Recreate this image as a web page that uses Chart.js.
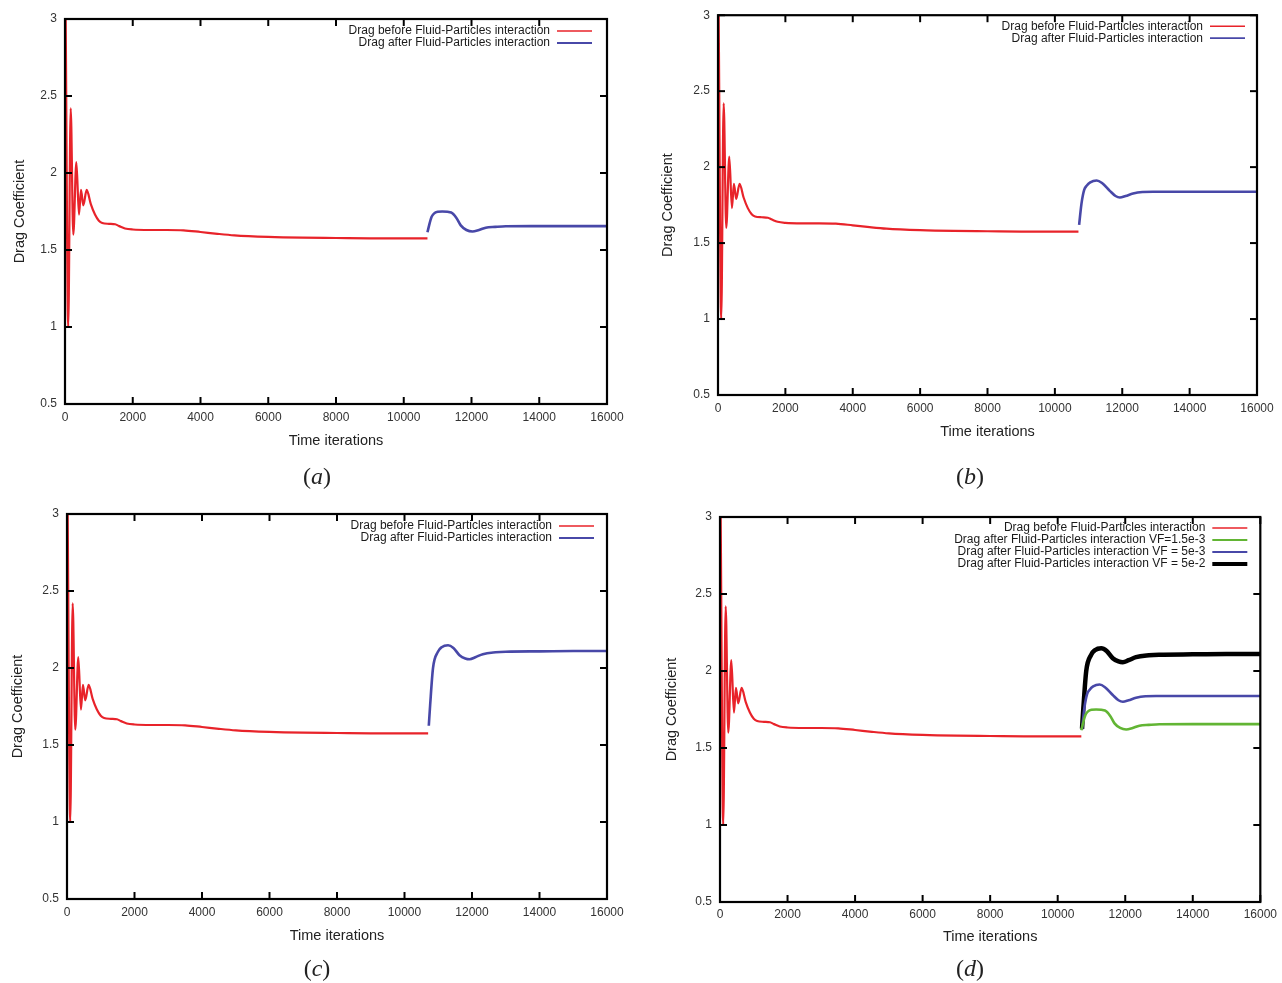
<!DOCTYPE html>
<html><head><meta charset="utf-8">
<script src="https://cdn.jsdelivr.net/npm/chart.js@4.4.1/dist/chart.umd.min.js"></script>
<style>
html,body{margin:0;padding:0;background:#fff;}
body{width:1282px;height:983px;position:relative;overflow:hidden;font-family:"Liberation Sans",Arial,sans-serif;}
.panel{position:absolute;}
.panel canvas{display:block;}
.cap{position:absolute;font-family:"Liberation Serif","DejaVu Serif",serif;font-size:24px;color:#222;transform:translate(-50%,-50%);white-space:nowrap;}
</style></head><body>
<div class="panel" style="left:0;top:0;width:640px;height:490px"><canvas id="ca" width="640" height="490"></canvas></div>
<div class="panel" style="left:640px;top:0;width:642px;height:490px"><canvas id="cb" width="642" height="490"></canvas></div>
<div class="panel" style="left:0;top:490px;width:640px;height:493px"><canvas id="cc" width="640" height="493"></canvas></div>
<div class="panel" style="left:640px;top:490px;width:642px;height:493px"><canvas id="cd" width="642" height="493"></canvas></div>
<div class="cap" style="left:317px;top:476px">(<i>a</i>)</div>
<div class="cap" style="left:970px;top:476px">(<i>b</i>)</div>
<div class="cap" style="left:317px;top:968px">(<i>c</i>)</div>
<div class="cap" style="left:970px;top:968px">(<i>d</i>)</div>
<script>
// ---- tick labels ----
const tickX = [0, 2000, 4000, 6000, 8000, 10000, 12000, 14000, 16000];
const tickY = [0.5, 1, 1.5, 2, 2.5, 3];

// ---- drag before fluid-particles interaction (same in all panels) ----
const redX = [20, 95, 168, 245, 335, 413, 472, 540, 640, 760, 885, 1000, 1100, 1300, 1480, 1600, 1770, 2000, 2500, 3000, 3500, 4000, 4500, 5000, 6000, 7000, 8000, 9000, 10000, 10700];
const redY = [3.0, 1.0, 2.42, 1.6, 2.07, 1.73, 1.89, 1.79, 1.89, 1.8, 1.73, 1.69, 1.675, 1.67, 1.667, 1.655, 1.64, 1.633, 1.63, 1.63, 1.628, 1.617, 1.605, 1.595, 1.585, 1.58, 1.578, 1.576, 1.575, 1.575];

// ---- drag after interaction, VF = 1.5e-3 (panel a, green in d) ----
const lowX = [10700, 10760, 10820, 10890, 11000, 11137, 11400, 11550, 11683, 11850, 12028, 12200, 12421, 12700, 13013, 14000, 16000];
const lowY = [1.615, 1.67, 1.715, 1.736, 1.748, 1.75, 1.743, 1.71, 1.66, 1.63, 1.62, 1.628, 1.645, 1.65, 1.654, 1.655, 1.655];

// ---- drag after interaction, VF = 5e-3 (panel b, blue in d) ----
const midX = [10720, 10790, 10870, 10943, 11050, 11240, 11400, 11630, 11800, 11930, 12100, 12320, 12600, 12914, 14000, 16000];
const midY = [1.62, 1.76, 1.85, 1.877, 1.9, 1.912, 1.895, 1.844, 1.81, 1.8, 1.81, 1.826, 1.836, 1.838, 1.838, 1.838];

// ---- drag after interaction, VF = 5e-2 (panel c, black in d) ----
const highX = [10720, 10760, 10845, 10990, 11100, 11290, 11450, 11630, 11800, 11930, 12100, 12320, 12700, 13000, 14000, 15000, 16000];
const highY = [1.625, 1.76, 2.0, 2.105, 2.135, 2.148, 2.13, 2.083, 2.062, 2.057, 2.07, 2.09, 2.102, 2.106, 2.108, 2.11, 2.11];

const FAM = '"Liberation Sans", Arial, sans-serif';
const RED = '#e8232a', BLUE = '#4848a8', GREEN = '#62b534', BLACK = '#000000';

function pts(xs, ys){ return xs.map((x,i)=>({x:x, y:ys[i]})); }
function ds(label, xs, ys, color, w, lw){
  return {label, data: pts(xs, ys), borderColor: color, backgroundColor: color,
          borderWidth: w, legendWidth: lw, pointRadius: 0, fill: false,
          cubicInterpolationMode: 'monotone'};
}

const framePlugin = {
  id: 'frame',
  afterDatasetsDraw(chart, args, o){
    const {ctx, chartArea: a, scales: {x, y}} = chart;
    ctx.save();
    ctx.strokeStyle = '#000';
    const seg = (x1,y1,x2,y2)=>{ctx.beginPath();ctx.moveTo(x1,y1);ctx.lineTo(x2,y2);ctx.stroke();};
    ctx.lineWidth = 2;
    const L = 7;
    x.ticks.forEach(t=>{ const p = x.getPixelForValue(t.value); seg(p,a.bottom,p,a.bottom-L); seg(p,a.top,p,a.top+L); });
    y.ticks.forEach(t=>{ const p = y.getPixelForValue(t.value); seg(a.left,p,a.left+L,p); seg(a.right,p,a.right-L,p); });
    ctx.lineWidth = 2.2;
    ctx.strokeRect(a.left, a.top, a.right-a.left, a.bottom-a.top);
    // gnuplot-style key: right-aligned text, sample line on the right
    ctx.font = '12px ' + FAM;
    ctx.textAlign = 'right';
    ctx.textBaseline = 'middle';
    chart.data.datasets.forEach((d,i)=>{
      const yy = a.top + o.top + i*o.step;
      ctx.fillStyle = '#1a1a1a';
      ctx.fillText(d.label, a.right - o.textOff, yy);
      ctx.strokeStyle = d.borderColor;
      ctx.lineWidth = d.legendWidth;
      seg(a.right - o.l1, yy, a.right - o.l2, yy);
    });
    ctx.restore();
  }
};

function makeChart(id, datasets, p){
  new Chart(document.getElementById(id), {
    type: 'line',
    data: {datasets},
    plugins: [framePlugin],
    options: {
      responsive: false, animation: false, events: [],
      layout: {padding: {top: p.top, right: p.right, left: 0, bottom: 0}},
      plugins: {
        legend: {display: false}, tooltip: {enabled: false},
        frame: {top: p.kTop, step: 12, textOff: p.kText, l1: p.kText - 7, l2: p.kText - 42}
      },
      scales: {
        x: {
          type: 'linear', min: 0, max: 16000,
          afterBuildTicks: s => { s.ticks = tickX.map(v => ({value: v})); },
          afterFit: s => { s.height = p.xh; },
          grid: {display: false, drawTicks: false}, border: {display: false},
          ticks: {padding: p.xpad, color: '#333', font: {size: 12, family: FAM}, maxRotation: 0, autoSkip: false,
                  callback: v => String(v)},
          title: {display: true, text: 'Time iterations', color: '#222', font: {size: 14.5, family: FAM},
                  padding: {top: 0, bottom: p.xtb}}
        },
        y: {
          type: 'linear', min: 0.5, max: 3,
          afterBuildTicks: s => { s.ticks = tickY.map(v => ({value: v})); },
          afterFit: s => { s.width = p.yw; },
          grid: {display: false, drawTicks: false}, border: {display: false},
          ticks: {padding: 8, color: '#333', font: {size: 12, family: FAM}, autoSkip: false,
                  callback: v => String(v)},
          title: {display: true, text: 'Drag Coefficient', color: '#222', font: {size: 14.5, family: FAM},
                  padding: {top: p.ytp, bottom: 0}}
        }
      }
    }
  });
}

const LB = 'Drag before Fluid-Particles interaction';
const LA = 'Drag after Fluid-Particles interaction';

makeChart('ca', [ds(LB, redX, redY, RED, 2.2, 1.6), ds(LA, lowX, lowY, BLUE, 2.6, 1.8)],
  {top: 19, right: 33, yw: 65, xh: 86, xpad: 6, xtb: 40.3, ytp: 11.3, kTop: 12, kText: 57});
makeChart('cb', [ds(LB, redX, redY, RED, 2.2, 1.6), ds(LA, midX, midY, BLUE, 2.6, 1.8)],
  {top: 10, right: 25, yw: 78, xh: 95, xpad: 6, xtb: 49.3, ytp: 19.3, kTop: 11, kText: 54});
makeChart('cc', [ds(LB, redX, redY, RED, 2.2, 1.6), ds(LA, highX, highY, BLUE, 2.6, 1.8)],
  {top: 24, right: 33, yw: 67, xh: 84, xpad: 6, xtb: 38.3, ytp: 9.3, kTop: 12, kText: 55});
makeChart('cd', [ds(LB, redX, redY, RED, 2.2, 1.6),
                 ds(LA + ' VF=1.5e-3', lowX, lowY, GREEN, 2.6, 1.8),
                 ds(LA + ' VF = 5e-3', midX, midY, BLUE, 2.6, 1.8),
                 ds(LA + ' VF = 5e-2', highX, highY, BLACK, 4.5, 4)],
  {top: 27, right: 21, yw: 80, xh: 81, xpad: 5, xtb: 37.3, ytp: 23.3, kTop: 11, kText: 55});
</script>
</body></html>
